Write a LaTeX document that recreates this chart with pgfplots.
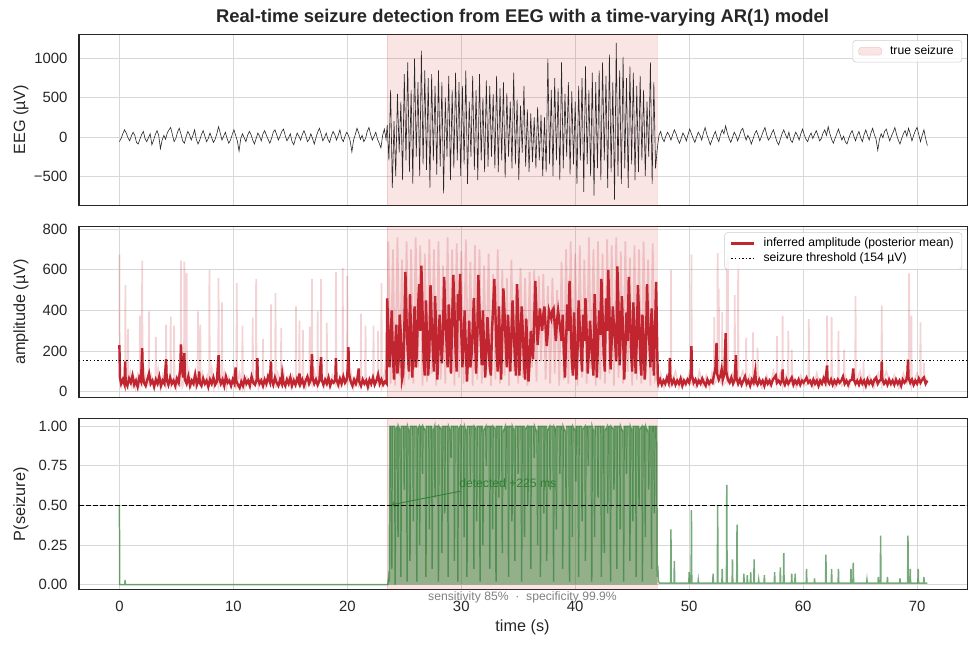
\documentclass[border=0pt]{standalone}
\usepackage{fontspec}
\setmainfont{Liberation Sans}
\usepackage{pgfplots}
\pgfplotsset{compat=1.18}
\definecolor{framec}{RGB}{38,38,38}
\definecolor{gridc}{RGB}{216,216,216}
\definecolor{szred}{RGB}{214,39,40}
\definecolor{ampred}{RGB}{193,37,47}
\definecolor{pgreen}{RGB}{46,125,50}
\definecolor{eegc}{RGB}{40,40,40}
\definecolor{legc}{RGB}{204,204,204}
\pgfplotsset{
  panel/.style={
    scale only axis, width=657.4pt, height=126.5pt,
    xmin=-3.545, xmax=74.445,
    axis line style={framec, line width=0.9pt},
    grid=major, major grid style={gridc, line width=0.6pt},
    tick style={draw=none},
    xtick={0,10,...,70},
    ticklabel style={font=\fontsize{11}{13}\selectfont, text=framec},
    yticklabel style={xshift=-5pt},
    xticklabel style={yshift=-5pt},
    /pgf/number format/assume math mode=true,
    legend style={font=\fontsize{9}{11}\selectfont, draw=legc, rounded corners=2pt,
      fill=white, fill opacity=0.8, text opacity=1, draw opacity=1,
      at={(1,1)}, anchor=north east, xshift=-4.2pt, yshift=-4.4pt,
      inner xsep=4pt, inner ysep=2pt, row sep=-1pt,
      /tikz/every odd column/.append style={column sep=4pt}},
    legend cell align=left,
  }
}
\begin{document}
\begin{tikzpicture}
\useasboundingbox (0,0) rectangle (722.7pt,-478.6pt);
% ---------------- Panel 1: EEG
\begin{axis}[panel, at={(58.44pt,-25.30pt)}, anchor=north west,
  ymin=-871, ymax=1310, ytick={-500,0,500,1000}, yticklabels={−500,0,500,1000},
  xticklabels={}]
\addplot[fill=szred, fill opacity=0.12, draw=szred, draw opacity=0.15, forget plot]
  coordinates {(23.5,-2000)(23.5,3000)(47.2,3000)(47.2,-2000)} -- cycle;
\addlegendimage{area legend, fill=szred, fill opacity=0.12, draw=szred, draw opacity=0.2}
\addlegendentry{true seizure}
\addplot[eegc, line width=0.45pt, forget plot] coordinates {
(0,-60)(0.15,-20)(0.3,40)(0.45,90)(0.6,50)(0.75,-10)(0.9,-50)(1.05,10)(1.2,60)(1.35,20)(1.5,-70)(1.65,-90)(1.8,-30)(1.95,30)(2.1,70)(2.25,-20)(2.4,-60)(2.55,-10)(2.7,40)(2.85,-100)(3.0,-40)(3.15,30)(3.3,80)(3.45,20)(3.6,-150)(3.75,-40)(3.9,20)(4.05,-30)(4.2,50)(4.35,90)(4.5,120)(4.65,30)(4.8,-60)(4.95,-20)(5.1,60)(5.25,110)(5.4,40)(5.55,-50)(5.7,-80)(5.85,0)(6.0,70)(6.15,30)(6.3,-40)(6.45,20)(6.6,90)(6.75,-30)(6.9,-90)(7.05,-40)(7.2,30)(7.35,80)(7.5,10)(7.65,-60)(7.8,-20)(7.95,50)(8.1,-10)(8.25,-70)(8.4,-30)(8.55,40)(8.7,130)(8.85,50)(9.0,-40)(9.15,10)(9.3,60)(9.45,-20)(9.6,-80)(9.75,-40)(9.9,30)(10.05,90)(10.2,20)(10.35,-50)(10.5,-180)(10.65,-20)(10.8,40)(10.95,-10)(11.1,-60)(11.25,20)(11.4,70)(11.55,30)(11.7,-40)(11.85,-90)(12.0,-20)(12.15,50)(12.3,10)(12.45,-50)(12.6,40)(12.75,80)(12.9,20)(13.05,-30)(13.2,-80)(13.35,-20)(13.5,60)(13.65,90)(13.8,30)(13.95,-40)(14.1,10)(14.25,70)(14.4,100)(14.55,20)(14.7,-50)(14.85,-10)(15.0,40)(15.15,-60)(15.3,-100)(15.45,-20)(15.6,50)(15.75,10)(15.9,-40)(16.05,30)(16.2,80)(16.35,20)(16.5,-60)(16.65,-30)(16.8,40)(16.95,-20)(17.1,-90)(17.25,-10)(17.4,60)(17.55,110)(17.7,40)(17.85,-50)(18.0,-10)(18.15,50)(18.3,-30)(18.45,-70)(18.6,10)(18.75,70)(18.9,30)(19.05,-40)(19.2,20)(19.35,90)(19.5,-20)(19.65,-60)(19.8,10)(19.95,60)(20.1,20)(20.25,-50)(20.4,-190)(20.55,-40)(20.7,30)(20.85,110)(21.0,50)(21.15,-30)(21.3,20)(21.45,-60)(21.6,-20)(21.75,70)(21.9,120)(22.05,30)(22.2,-40)(22.35,10)(22.5,60)(22.65,-30)(22.8,-80)(22.95,-140)(23.1,20)(23.25,100)(23.4,-30)
(23.5,150)(23.65,-300)(23.8,600)(23.95,-650)(24.1,200)(24.25,-500)(24.4,550)(24.55,-200)(24.7,450)(24.85,-550)(25.0,800)(25.15,-300)(25.3,950)(25.45,-450)(25.6,600)(25.75,-600)(25.9,1000)(26.05,-250)(26.2,700)(26.35,-500)(26.5,1100)(26.65,-350)(26.8,850)(26.95,-420)(27.1,750)(27.25,-650)(27.4,800)(27.55,-300)(27.7,650)(27.85,-480)(28.0,850)(28.15,-380)(28.3,700)(28.45,-720)(28.6,500)(28.75,-250)(28.9,780)(29.05,-550)(29.2,600)(29.35,-400)(29.5,820)(29.65,-300)(29.8,700)(29.95,-500)(30.1,650)(30.25,-350)(30.4,850)(30.55,-600)(30.7,450)(30.85,-250)(31.0,780)(31.15,-420)(31.3,600)(31.45,-550)(31.6,800)(31.75,-300)(31.9,500)(32.05,-450)(32.2,720)(32.35,-380)(32.5,650)(32.65,-250)(32.8,550)(32.95,-400)(33.1,780)(33.25,-450)(33.4,620)(33.55,-300)(33.7,700)(33.85,-520)(34.0,560)(34.15,-250)(34.3,450)(34.45,-400)(34.6,820)(34.75,-350)(34.9,480)(35.05,-550)(35.2,400)(35.35,-200)(35.5,650)(35.65,-380)(35.8,350)(35.95,-450)(36.1,300)(36.25,-320)(36.4,250)(36.55,-400)(36.7,380)(36.85,-300)(37.0,280)(37.15,-500)(37.3,250)(37.45,-450)(37.6,1000)(37.75,-350)(37.9,600)(38.05,-500)(38.2,750)(38.35,-300)(38.5,620)(38.65,-550)(38.8,950)(38.95,-400)(39.1,550)(39.25,-250)(39.4,700)(39.55,-480)(39.7,580)(39.85,-350)(40.0,450)(40.15,-600)(40.3,650)(40.45,-300)(40.6,750)(40.75,-700)(40.9,900)(41.05,-350)(41.2,600)(41.35,-500)(41.5,820)(41.65,-750)(41.8,700)(41.95,-400)(42.1,850)(42.25,-550)(42.4,950)(42.55,-300)(42.7,780)(42.85,-650)(43.0,1050)(43.15,-450)(43.3,700)(43.45,-800)(43.6,1200)(43.75,-500)(43.9,850)(44.05,-600)(44.2,1020)(44.35,-400)(44.5,750)(44.65,-650)(44.8,900)(44.95,-350)(45.1,820)(45.25,-550)(45.4,650)(45.55,-450)(45.7,780)(45.85,-300)(46.0,600)(46.15,-500)(46.3,450)(46.45,-250)(46.6,950)(46.75,-600)(46.9,700)(47.05,-400)(47.2,-150)
(47.35,20)(47.5,70)(47.65,-20)(47.8,-60)(47.95,10)(48.1,60)(48.25,20)(48.4,-40)(48.55,30)(48.7,90)(48.85,40)(49.0,-30)(49.15,-80)(49.3,-20)(49.45,50)(49.6,10)(49.75,-50)(49.9,30)(50.05,100)(50.2,40)(50.35,-20)(50.5,-70)(50.65,0)(50.8,60)(50.95,20)(51.1,-40)(51.25,50)(51.4,120)(51.55,30)(51.7,-30)(51.85,-100)(52.0,-40)(52.15,20)(52.3,70)(52.45,-10)(52.6,-60)(52.75,30)(52.9,90)(53.05,40)(53.2,140)(53.35,50)(53.5,-20)(53.65,-70)(53.8,-10)(53.95,60)(54.1,20)(54.25,-50)(54.4,10)(54.55,80)(54.7,110)(54.85,30)(55.0,-40)(55.15,20)(55.3,-20)(55.45,-90)(55.6,-30)(55.75,40)(55.9,80)(56.05,20)(56.2,-50)(56.35,10)(56.5,70)(56.65,120)(56.8,30)(56.95,-40)(57.1,-10)(57.25,50)(57.4,90)(57.55,10)(57.7,-60)(57.85,-100)(58.0,-30)(58.15,40)(58.3,90)(58.45,30)(58.6,-20)(58.75,60)(58.9,-40)(59.05,-70)(59.2,0)(59.35,60)(59.5,20)(59.65,-40)(59.8,40)(59.95,100)(60.1,30)(60.25,-30)(60.4,-60)(60.55,10)(60.7,50)(60.85,-20)(61.0,30)(61.15,80)(61.3,20)(61.45,-50)(61.6,-20)(61.75,50)(61.9,90)(62.05,20)(62.2,130)(62.35,40)(62.5,-30)(62.65,-80)(62.8,-20)(62.95,40)(63.1,100)(63.25,30)(63.4,-40)(63.55,10)(63.7,-60)(63.85,-90)(64.0,-20)(64.15,40)(64.3,80)(64.45,10)(64.6,-50)(64.75,20)(64.9,70)(65.05,-10)(65.2,-60)(65.35,30)(65.5,90)(65.65,20)(65.8,-40)(65.95,50)(66.1,110)(66.25,30)(66.4,-30)(66.55,-170)(66.7,-30)(66.85,40)(67.0,-10)(67.15,70)(67.3,100)(67.45,20)(67.6,-50)(67.75,10)(67.9,60)(68.05,120)(68.2,30)(68.35,-40)(68.5,-90)(68.65,-20)(68.8,40)(68.95,80)(69.1,10)(69.25,110)(69.4,40)(69.55,-50)(69.7,20)(69.85,80)(70.0,120)(70.15,30)(70.3,-60)(70.45,20)(70.6,90)(70.75,-20)(70.9,-110)
};
\end{axis}
% ---------------- Panel 2: amplitude
\begin{axis}[panel, at={(58.44pt,-167.55pt)}, anchor=north west,
  ymin=-28, ymax=813, ytick={0,200,...,800}, xticklabels={}]
\addplot[fill=szred, fill opacity=0.12, draw=szred, draw opacity=0.15, forget plot]
  coordinates {(23.5,-2000)(23.5,3000)(47.2,3000)(47.2,-2000)} -- cycle;
\addplot[ampred, opacity=0.2, line width=1.3pt, forget plot] coordinates {
(0,675)(0.03,80)(0.2,30)(0.35,70)(0.5,40)(0.53,525)(0.56,60)(0.73,30)(0.76,310)(0.79,40)(0.95,90)(1.1,30)(1.25,70)(1.4,20)(1.6,80)(1.77,40)(1.8,375)(1.83,60)(1.97,40)(2.0,645)(2.03,50)(2.2,100)(2.4,30)(2.57,60)(2.6,395)(2.63,30)(2.8,80)(3.0,40)(3.17,60)(3.2,270)(3.23,40)(3.4,110)(3.6,20)(3.8,80)(4.07,30)(4.1,330)(4.13,70)(4.3,30)(4.47,60)(4.5,370)(4.53,30)(4.77,70)(4.8,325)(4.83,90)(5.0,20)(5.2,80)(5.37,40)(5.4,645)(5.43,60)(5.55,30)(5.67,60)(5.7,640)(5.73,80)(5.87,40)(5.9,585)(5.93,40)(6.1,100)(6.3,30)(6.5,70)(6.7,20)(6.87,60)(6.9,395)(6.93,70)(7.07,30)(7.1,330)(7.13,30)(7.3,90)(7.5,40)(7.7,80)(7.87,30)(7.9,600)(7.93,40)(8.1,110)(8.3,20)(8.5,60)(8.67,30)(8.7,560)(8.73,80)(8.97,40)(9.0,440)(9.03,30)(9.2,90)(9.4,20)(9.6,70)(9.8,30)(10.0,80)(10.27,40)(10.3,535)(10.33,40)(10.55,90)(10.77,30)(10.8,325)(10.83,100)(11.0,20)(11.2,70)(11.4,30)(11.67,60)(11.7,365)(11.73,40)(11.97,70)(12.0,555)(12.03,80)(12.2,20)(12.4,60)(12.57,30)(12.6,260)(12.63,90)(12.8,30)(13.0,80)(13.27,40)(13.3,430)(13.33,60)(13.5,30)(13.67,70)(13.7,485)(13.73,20)(13.9,90)(14.17,40)(14.2,315)(14.23,40)(14.4,100)(14.6,20)(14.8,70)(15.0,30)(15.2,80)(15.47,40)(15.5,420)(15.53,50)(15.77,30)(15.8,350)(15.83,30)(16.07,60)(16.1,305)(16.13,90)(16.35,20)(16.67,70)(16.7,320)(16.73,60)(16.87,40)(16.9,555)(16.93,40)(17.1,100)(17.37,30)(17.4,395)(17.43,30)(17.67,60)(17.7,555)(17.73,80)(17.95,20)(18.17,60)(18.2,340)(18.23,90)(18.45,30)(18.7,80)(18.97,40)(19.0,590)(19.03,60)(19.3,20)(19.57,70)(19.6,610)(19.63,80)(19.97,40)(20.0,570)(20.03,40)(20.3,100)(20.55,20)(20.8,70)(21.0,30)(21.17,60)(21.2,385)(21.23,30)(21.57,80)(21.6,325)(21.63,80)(21.9,20)(22.27,60)(22.3,325)(22.33,60)(22.67,40)(22.7,300)(22.73,90)(22.97,50)(23.0,535)(23.03,30)(23.3,100)(23.5,250)
(23.6,740)(23.8,40)(24.0,700)(24.2,30)(24.4,760)(24.6,80)(24.8,650)(25.0,30)(25.2,740)(25.4,60)(25.6,700)(25.8,40)(26.0,760)(26.2,120)(26.4,720)(26.6,30)(26.8,680)(27.0,50)(27.2,750)(27.4,90)(27.6,700)(27.8,30)(28.0,740)(28.2,60)(28.4,620)(28.6,40)(28.8,760)(29.0,100)(29.2,700)(29.4,30)(29.6,730)(29.8,70)(30.0,690)(30.2,40)(30.4,750)(30.6,110)(30.8,640)(31.0,30)(31.2,720)(31.4,60)(31.6,700)(31.8,40)(32.0,620)(32.2,90)(32.4,680)(32.6,30)(32.8,580)(33.0,60)(33.2,700)(33.4,40)(33.6,600)(33.8,80)(34.0,560)(34.2,30)(34.4,650)(34.6,100)(34.8,530)(35.0,40)(35.2,610)(35.4,70)(35.6,560)(35.8,30)(36.0,590)(36.2,120)(36.4,600)(36.6,50)(36.8,570)(37.0,150)(37.2,580)(37.4,60)(37.6,520)(37.8,40)(38.0,560)(38.2,90)(38.4,500)(38.6,30)(38.8,640)(39.0,60)(39.2,700)(39.4,40)(39.6,740)(39.8,90)(40.0,680)(40.2,30)(40.4,720)(40.6,70)(40.8,650)(41.0,40)(41.2,760)(41.4,110)(41.6,700)(41.8,30)(42.0,740)(42.2,60)(42.4,680)(42.6,40)(42.8,750)(43.0,90)(43.2,720)(43.4,30)(43.6,760)(43.8,70)(44.0,690)(44.2,40)(44.4,740)(44.6,100)(44.8,660)(45.0,30)(45.2,720)(45.4,60)(45.6,700)(45.8,40)(46.0,740)(46.2,80)(46.4,650)(46.6,30)(46.8,730)(47.0,60)(47.2,90)
(47.3,30)(47.5,90)(47.8,20)(48.1,80)(48.37,40)(48.4,600)(48.43,40)(48.8,100)(49.1,20)(49.4,70)(49.7,30)(50.0,90)(50.17,40)(50.2,675)(50.23,40)(50.6,20)(50.9,100)(51.2,30)(51.5,80)(51.8,20)(52.0,90)(52.17,40)(52.2,367)(52.23,40)(52.47,60)(52.5,683)(52.53,60)(52.57,60)(52.6,508)(52.63,60)(52.87,40)(52.9,392)(52.93,30)(53.27,50)(53.3,650)(53.33,50)(53.37,50)(53.4,675)(53.43,50)(53.8,90)(53.97,40)(54.0,475)(54.03,60)(54.27,40)(54.3,633)(54.33,40)(54.7,100)(54.97,40)(55.0,267)(55.03,30)(55.3,80)(55.57,40)(55.6,292)(55.63,40)(55.97,40)(56.0,217)(56.03,90)(56.4,20)(56.8,80)(57.1,30)(57.4,100)(57.67,40)(57.7,275)(57.73,40)(58.0,90)(58.17,30)(58.2,375)(58.23,30)(58.5,80)(58.67,40)(58.7,300)(58.73,40)(58.97,40)(59.0,208)(59.03,90)(59.4,20)(59.8,80)(60.1,30)(60.47,40)(60.5,358)(60.53,60)(60.9,20)(61.2,90)(61.5,30)(61.8,80)(62.07,40)(62.1,375)(62.13,40)(62.47,40)(62.5,367)(62.53,90)(62.8,20)(63.07,40)(63.1,300)(63.13,60)(63.4,30)(63.57,40)(63.6,208)(63.63,90)(64.0,20)(64.3,80)(64.57,40)(64.6,470)(64.63,40)(65.0,100)(65.27,30)(65.3,150)(65.33,30)(65.8,80)(66.2,20)(66.6,90)(66.87,40)(66.9,425)(66.93,40)(67.3,100)(67.7,30)(68.0,80)(68.4,20)(68.8,90)(69.1,40)(69.27,60)(69.3,583)(69.33,60)(69.47,30)(69.5,375)(69.53,30)(70.0,90)(70.27,40)(70.3,342)(70.33,40)(70.57,80)(70.6,142)(70.63,80)(70.9,50)
};
\addplot[ampred, line width=1.8pt] coordinates {
(0,230)(0.05,70)(0.15,40)(0.3,60)(0.45,35)(0.5,150)(0.55,50)(0.7,30)(0.85,65)(1.0,45)(1.15,80)(1.3,35)(1.45,55)(1.6,25)(1.75,70)(1.9,50)(2.0,215)(2.05,90)(2.15,45)(2.3,30)(2.45,60)(2.6,90)(2.75,40)(2.9,55)(3.05,25)(3.2,60)(3.35,40)(3.5,75)(3.65,30)(3.8,55)(3.95,40)(4.1,160)(4.15,60)(4.3,35)(4.45,70)(4.6,40)(4.75,55)(4.9,30)(5.05,65)(5.2,45)(5.35,120)(5.4,233)(5.5,110)(5.6,70)(5.7,190)(5.75,60)(5.9,40)(6.05,75)(6.2,30)(6.35,55)(6.5,40)(6.65,85)(6.8,35)(6.95,60)(7.0,100)(7.05,45)(7.2,30)(7.35,65)(7.5,40)(7.65,55)(7.8,25)(7.95,60)(8.1,40)(8.25,70)(8.4,35)(8.55,50)(8.7,180)(8.75,70)(8.9,40)(9.05,60)(9.2,30)(9.35,75)(9.5,45)(9.65,55)(9.8,30)(9.95,60)(10.1,40)(10.2,120)(10.25,55)(10.4,35)(10.55,20)(10.7,50)(10.85,30)(11.0,65)(11.15,40)(11.3,55)(11.45,30)(11.6,75)(11.75,45)(11.9,35)(12.05,60)(12.1,165)(12.15,70)(12.3,40)(12.45,55)(12.6,30)(12.75,60)(12.9,40)(13.05,75)(13.2,50)(13.3,150)(13.35,60)(13.5,35)(13.65,70)(13.8,45)(13.95,30)(14.1,60)(14.25,40)(14.3,85)(14.4,45)(14.55,30)(14.7,60)(14.85,40)(15.0,70)(15.15,30)(15.3,55)(15.45,35)(15.6,65)(15.75,45)(15.8,90)(15.9,40)(16.05,60)(16.2,30)(16.35,55)(16.5,75)(16.65,40)(16.8,60)(16.9,185)(16.95,70)(17.1,40)(17.25,60)(17.4,35)(17.55,55)(17.7,170)(17.75,60)(17.9,35)(18.05,60)(18.2,40)(18.35,70)(18.5,30)(18.65,55)(18.8,45)(18.95,60)(19.0,165)(19.05,60)(19.2,35)(19.35,65)(19.5,40)(19.65,75)(19.8,45)(19.95,60)(20.05,120)(20.1,220)(20.15,90)(20.3,50)(20.45,30)(20.6,60)(20.75,40)(20.9,70)(21.0,115)(21.05,50)(21.2,30)(21.35,60)(21.5,40)(21.65,55)(21.8,25)(21.95,60)(22.1,40)(22.25,70)(22.4,35)(22.55,55)(22.7,85)(22.85,40)(23.0,60)(23.15,35)(23.3,50)(23.45,40)
(23.5,460)(23.6,300)(23.7,120)(23.8,250)(23.9,400)(24.0,180)(24.1,60)(24.2,220)(24.3,330)(24.4,90)(24.5,150)(24.6,380)(24.7,280)(24.8,60)(24.9,90)(25.0,300)(25.1,590)(25.2,350)(25.3,200)(25.4,100)(25.5,480)(25.6,280)(25.7,70)(25.8,240)(25.9,420)(26.0,120)(26.1,180)(26.2,400)(26.3,530)(26.4,300)(26.5,620)(26.6,400)(26.7,150)(26.8,80)(26.9,450)(27.0,250)(27.1,80)(27.2,200)(27.3,525)(27.4,350)(27.5,220)(27.6,100)(27.7,470)(27.8,300)(27.9,60)(28.0,200)(28.1,380)(28.2,250)(28.3,140)(28.4,300)(28.5,565)(28.6,380)(28.7,250)(28.8,120)(28.9,430)(29.0,280)(29.1,90)(29.2,350)(29.3,575)(29.4,420)(29.5,200)(29.6,100)(29.7,480)(29.8,350)(29.9,580)(30.0,300)(30.1,120)(30.2,250)(30.3,400)(30.4,220)(30.5,50)(30.6,180)(30.7,350)(30.8,120)(30.9,180)(31.0,300)(31.1,460)(31.2,280)(31.3,90)(31.4,250)(31.5,575)(31.6,400)(31.7,260)(31.8,130)(31.9,400)(32.0,220)(32.1,70)(32.2,200)(32.3,367)(32.4,250)(32.5,120)(32.6,80)(32.7,300)(32.8,420)(32.9,555)(33.0,380)(33.1,200)(33.2,100)(33.3,420)(33.4,250)(33.5,60)(33.6,300)(33.7,508)(33.8,380)(33.9,240)(34.0,120)(34.1,380)(34.2,250)(34.3,100)(34.4,280)(34.5,450)(34.6,300)(34.7,180)(34.8,80)(34.9,530)(35.0,350)(35.1,80)(35.2,250)(35.3,420)(35.4,300)(35.5,150)(35.6,60)(35.7,360)(35.8,220)(35.9,50)(36.0,150)(36.1,300)(36.2,220)(36.3,160)(36.4,350)(36.5,545)(36.6,380)(36.7,230)(36.8,320)(36.9,410)(37.0,350)(37.1,300)(37.2,380)(37.3,420)(37.4,320)(37.5,225)(37.6,300)(37.7,400)(37.8,380)(37.9,360)(38.0,400)(38.1,410)(38.2,330)(38.3,250)(38.4,350)(38.5,400)(38.6,350)(38.7,300)(38.8,250)(38.9,380)(39.0,200)(39.1,70)(39.2,250)(39.3,430)(39.4,300)(39.5,545)(39.6,350)(39.7,150)(39.8,80)(39.9,390)(40.0,220)(40.1,60)(40.2,200)(40.3,450)(40.4,320)(40.5,200)(40.6,100)(40.7,380)(40.8,250)(40.9,460)(41.0,300)(41.1,90)(41.2,200)(41.3,350)(41.4,250)(41.5,160)(41.6,80)(41.7,480)(41.8,300)(41.9,70)(42.0,250)(42.1,400)(42.2,280)(42.3,555)(42.4,380)(42.5,180)(42.6,100)(42.7,460)(42.8,300)(42.9,600)(43.0,400)(43.1,110)(43.2,250)(43.3,420)(43.4,320)(43.5,250)(43.6,150)(43.7,617)(43.8,400)(43.9,130)(44.0,300)(44.1,470)(44.2,280)(44.3,60)(44.4,200)(44.5,390)(44.6,250)(44.7,565)(44.8,380)(44.9,200)(45.0,100)(45.1,440)(45.2,300)(45.3,90)(45.4,250)(45.5,525)(45.6,380)(45.7,170)(45.8,80)(45.9,380)(46.0,250)(46.1,60)(46.2,200)(46.3,530)(46.4,350)(46.5,250)(46.6,120)(46.7,410)(46.8,280)(46.9,80)(47.0,300)(47.1,540)(47.2,200)
(47.25,60)(47.3,40)(47.45,60)(47.6,35)(47.75,55)(47.9,40)(48.05,70)(48.2,45)(48.27,90)(48.3,167)(48.35,70)(48.5,40)(48.65,60)(48.8,35)(48.95,55)(49.1,40)(49.25,65)(49.4,30)(49.55,55)(49.7,40)(49.85,60)(50.0,45)(50.15,90)(50.2,225)(50.25,80)(50.4,45)(50.55,60)(50.7,35)(50.85,55)(51.0,40)(51.15,65)(51.3,45)(51.45,30)(51.6,60)(51.75,40)(51.9,55)(52.05,45)(52.2,90)(52.3,110)(52.4,240)(52.45,90)(52.6,60)(52.75,80)(52.85,110)(52.95,60)(53.1,90)(53.2,288)(53.25,100)(53.4,60)(53.55,45)(53.7,70)(53.85,40)(54.0,60)(54.1,180)(54.15,70)(54.3,40)(54.45,60)(54.6,35)(54.75,55)(54.9,75)(55.05,40)(55.2,55)(55.35,30)(55.5,60)(55.65,45)(55.8,100)(55.85,50)(56.0,35)(56.15,60)(56.3,40)(56.45,55)(56.6,30)(56.75,60)(56.9,40)(57.05,55)(57.2,35)(57.35,60)(57.6,80)(57.7,45)(57.85,55)(58.0,40)(58.15,60)(58.2,110)(58.25,55)(58.4,35)(58.55,60)(58.7,40)(58.85,55)(59.0,70)(59.15,35)(59.3,55)(59.45,40)(59.6,60)(59.75,35)(59.9,55)(60.05,45)(60.3,70)(60.45,45)(60.6,55)(60.75,35)(60.9,60)(61.05,40)(61.2,55)(61.35,30)(61.5,55)(61.65,40)(61.8,65)(61.95,45)(62.1,130)(62.15,55)(62.3,40)(62.45,60)(62.6,35)(62.75,55)(62.9,40)(63.05,60)(63.2,45)(63.35,55)(63.5,75)(63.65,40)(63.8,55)(63.95,35)(64.1,55)(64.3,60)(64.4,115)(64.45,60)(64.6,40)(64.75,55)(64.9,35)(65.05,60)(65.2,40)(65.35,55)(65.5,30)(65.65,60)(65.8,40)(65.95,55)(66.1,35)(66.25,60)(66.4,70)(66.55,40)(66.7,55)(66.85,60)(66.9,150)(66.95,60)(67.1,40)(67.25,55)(67.4,35)(67.55,60)(67.7,40)(67.85,55)(68.0,35)(68.15,60)(68.3,40)(68.45,55)(68.6,30)(68.75,60)(68.9,45)(69.05,55)(69.15,90)(69.2,158)(69.25,70)(69.4,45)(69.55,60)(69.7,35)(69.85,55)(70.0,40)(70.15,65)(70.3,45)(70.45,60)(70.6,70)(70.75,40)(70.9,55)
};
\addlegendentry{inferred amplitude (posterior mean)}
\addplot[black, line width=1pt, dash pattern=on 1pt off 1.7pt] coordinates {(-3.545,154)(74.445,154)};
\addlegendentry{seizure threshold (154 µV)}
\end{axis}
% ---------------- Panel 3: P(seizure)
\begin{axis}[panel, at={(58.44pt,-309.79pt)}, anchor=north west,
  ymin=-0.032, ymax=1.047, ytick={0,0.25,0.5,0.75,1},
  yticklabels={0.00,0.25,0.50,0.75,1.00}]
\addplot[fill=szred, fill opacity=0.12, draw=szred, draw opacity=0.15, forget plot]
  coordinates {(23.5,-2)(23.5,3)(47.2,3)(47.2,-2)} -- cycle;
\addplot[draw=none, fill=pgreen, fill opacity=0.5, forget plot] coordinates {
(23.55,0)(23.62,0.05)(23.68,0.02)(23.74,1)(23.86,1)(23.9,0.1)(23.94,1)(24.16,1)(24.2,0)(24.24,0.98)(24.41,1)(24.45,0.3)(24.49,1)(24.66,0.97)(24.7,0.05)(24.74,1)(24.96,1)(25.0,0.6)(25.04,1)(25.21,1)(25.25,0.02)(25.29,1)(25.46,0.96)(25.5,0.15)(25.54,1)(25.76,1)(25.8,0.4)(25.84,1)(26.06,1)(26.1,0.02)(26.14,0.98)(26.31,1)(26.35,0.25)(26.39,1)(26.56,1)(26.6,0.7)(26.64,1)(26.86,0.97)(26.9,0.05)(26.94,1)(27.16,1)(27.2,0.35)(27.24,1)(27.41,1)(27.45,0.1)(27.49,0.96)(27.66,1)(27.7,0.55)(27.74,1)(27.96,1)(28.0,0.02)(28.04,1)(28.26,0.98)(28.3,0.2)(28.34,1)(28.51,1)(28.55,0.45)(28.59,1)(28.81,1)(28.85,0.05)(28.89,1)(29.06,0.97)(29.1,0.8)(29.14,1)(29.36,1)(29.4,0.15)(29.44,1)(29.66,1)(29.7,0.02)(29.74,0.98)(29.91,1)(29.95,0.5)(29.99,1)(30.21,1)(30.25,0.3)(30.29,1)(30.46,0.96)(30.5,0.05)(30.54,1)(30.76,1)(30.8,0.65)(30.84,1)(31.06,1)(31.1,0.1)(31.14,1)(31.31,0.98)(31.35,0.4)(31.39,1)(31.61,1)(31.65,0.02)(31.69,1)(31.86,1)(31.9,0.25)(31.94,0.97)(32.16,1)(32.2,0.75)(32.24,1)(32.46,1)(32.5,0.1)(32.54,1)(32.71,1)(32.75,0.35)(32.79,1)(33.01,0.98)(33.05,0.02)(33.09,1)(33.26,1)(33.3,0.55)(33.34,1)(33.56,1)(33.6,0.2)(33.64,0.96)(33.86,1)(33.9,0.6)(33.94,1)(34.11,1)(34.15,0.05)(34.19,1)(34.41,1)(34.45,0.4)(34.49,1)(34.66,0.97)(34.7,0.15)(34.74,1)(34.96,1)(35.0,0.7)(35.04,1)(35.26,1)(35.3,0.02)(35.34,1)(35.51,1)(35.55,0.3)(35.59,0.98)(35.81,1)(35.85,0.5)(35.89,1)(36.06,1)(36.1,0.1)(36.14,1)(36.36,1)(36.4,0.8)(36.44,1)(36.66,0.96)(36.7,0.25)(36.74,1)(36.91,1)(36.95,0.05)(36.99,1)(37.21,1)(37.25,0.45)(37.29,1)(37.46,1)(37.5,0.15)(37.54,0.97)(37.76,1)(37.8,0.6)(37.84,1)(38.06,1)(38.1,0.02)(38.14,1)(38.31,0.98)(38.35,0.35)(38.39,1)(38.61,1)(38.65,0.7)(38.69,1)(38.86,1)(38.9,0.1)(38.94,1)(39.16,0.96)(39.2,0.5)(39.24,1)(39.46,1)(39.5,0.02)(39.54,1)(39.71,1)(39.75,0.3)(39.79,1)(40.01,0.97)(40.05,0.65)(40.09,1)(40.26,1)(40.3,0.05)(40.34,1)(40.56,1)(40.6,0.4)(40.64,0.98)(40.86,1)(40.9,0.15)(40.94,1)(41.11,1)(41.15,0.75)(41.19,1)(41.41,1)(41.45,0.02)(41.49,1)(41.66,0.96)(41.7,0.3)(41.74,1)(41.96,1)(42.0,0.55)(42.04,1)(42.26,1)(42.3,0.05)(42.34,1)(42.51,1)(42.55,0.2)(42.59,0.97)(42.81,1)(42.85,0.45)(42.89,1)(43.06,1)(43.1,0.02)(43.14,1)(43.36,0.98)(43.4,0.6)(43.44,1)(43.61,1)(43.65,0.1)(43.69,1)(43.91,1)(43.95,0.35)(43.99,1)(44.21,0.96)(44.25,0.02)(44.29,1)(44.46,1)(44.5,0.7)(44.54,1)(44.76,1)(44.8,0.15)(44.84,1)(45.01,0.97)(45.05,0.4)(45.09,1)(45.31,1)(45.35,0.05)(45.39,1)(45.56,1)(45.6,0.5)(45.64,0.98)(45.86,1)(45.9,0.02)(45.94,1)(46.11,1)(46.15,0.3)(46.19,1)(46.41,0.96)(46.45,0.6)(46.49,1)(46.66,1)(46.7,0.1)(46.74,1)(46.91,1)(46.95,0.45)(46.99,1)(47.15,1)(47.2,0.05)(47.2,0)
} -- cycle;
\addplot[pgreen, opacity=0.65, line width=1.1pt, forget plot] coordinates {
(0,0.5)(0.03,0)(0.47,0)(0.5,0.03)(0.53,0)(23.5,0)
(23.55,0)(23.62,0.05)(23.68,0.02)(23.74,1)(23.86,1)(23.9,0.1)(23.94,1)(24.16,1)(24.2,0)(24.24,0.98)(24.41,1)(24.45,0.3)(24.49,1)(24.66,0.97)(24.7,0.05)(24.74,1)(24.96,1)(25.0,0.6)(25.04,1)(25.21,1)(25.25,0.02)(25.29,1)(25.46,0.96)(25.5,0.15)(25.54,1)(25.76,1)(25.8,0.4)(25.84,1)(26.06,1)(26.1,0.02)(26.14,0.98)(26.31,1)(26.35,0.25)(26.39,1)(26.56,1)(26.6,0.7)(26.64,1)(26.86,0.97)(26.9,0.05)(26.94,1)(27.16,1)(27.2,0.35)(27.24,1)(27.41,1)(27.45,0.1)(27.49,0.96)(27.66,1)(27.7,0.55)(27.74,1)(27.96,1)(28.0,0.02)(28.04,1)(28.26,0.98)(28.3,0.2)(28.34,1)(28.51,1)(28.55,0.45)(28.59,1)(28.81,1)(28.85,0.05)(28.89,1)(29.06,0.97)(29.1,0.8)(29.14,1)(29.36,1)(29.4,0.15)(29.44,1)(29.66,1)(29.7,0.02)(29.74,0.98)(29.91,1)(29.95,0.5)(29.99,1)(30.21,1)(30.25,0.3)(30.29,1)(30.46,0.96)(30.5,0.05)(30.54,1)(30.76,1)(30.8,0.65)(30.84,1)(31.06,1)(31.1,0.1)(31.14,1)(31.31,0.98)(31.35,0.4)(31.39,1)(31.61,1)(31.65,0.02)(31.69,1)(31.86,1)(31.9,0.25)(31.94,0.97)(32.16,1)(32.2,0.75)(32.24,1)(32.46,1)(32.5,0.1)(32.54,1)(32.71,1)(32.75,0.35)(32.79,1)(33.01,0.98)(33.05,0.02)(33.09,1)(33.26,1)(33.3,0.55)(33.34,1)(33.56,1)(33.6,0.2)(33.64,0.96)(33.86,1)(33.9,0.6)(33.94,1)(34.11,1)(34.15,0.05)(34.19,1)(34.41,1)(34.45,0.4)(34.49,1)(34.66,0.97)(34.7,0.15)(34.74,1)(34.96,1)(35.0,0.7)(35.04,1)(35.26,1)(35.3,0.02)(35.34,1)(35.51,1)(35.55,0.3)(35.59,0.98)(35.81,1)(35.85,0.5)(35.89,1)(36.06,1)(36.1,0.1)(36.14,1)(36.36,1)(36.4,0.8)(36.44,1)(36.66,0.96)(36.7,0.25)(36.74,1)(36.91,1)(36.95,0.05)(36.99,1)(37.21,1)(37.25,0.45)(37.29,1)(37.46,1)(37.5,0.15)(37.54,0.97)(37.76,1)(37.8,0.6)(37.84,1)(38.06,1)(38.1,0.02)(38.14,1)(38.31,0.98)(38.35,0.35)(38.39,1)(38.61,1)(38.65,0.7)(38.69,1)(38.86,1)(38.9,0.1)(38.94,1)(39.16,0.96)(39.2,0.5)(39.24,1)(39.46,1)(39.5,0.02)(39.54,1)(39.71,1)(39.75,0.3)(39.79,1)(40.01,0.97)(40.05,0.65)(40.09,1)(40.26,1)(40.3,0.05)(40.34,1)(40.56,1)(40.6,0.4)(40.64,0.98)(40.86,1)(40.9,0.15)(40.94,1)(41.11,1)(41.15,0.75)(41.19,1)(41.41,1)(41.45,0.02)(41.49,1)(41.66,0.96)(41.7,0.3)(41.74,1)(41.96,1)(42.0,0.55)(42.04,1)(42.26,1)(42.3,0.05)(42.34,1)(42.51,1)(42.55,0.2)(42.59,0.97)(42.81,1)(42.85,0.45)(42.89,1)(43.06,1)(43.1,0.02)(43.14,1)(43.36,0.98)(43.4,0.6)(43.44,1)(43.61,1)(43.65,0.1)(43.69,1)(43.91,1)(43.95,0.35)(43.99,1)(44.21,0.96)(44.25,0.02)(44.29,1)(44.46,1)(44.5,0.7)(44.54,1)(44.76,1)(44.8,0.15)(44.84,1)(45.01,0.97)(45.05,0.4)(45.09,1)(45.31,1)(45.35,0.05)(45.39,1)(45.56,1)(45.6,0.5)(45.64,0.98)(45.86,1)(45.9,0.02)(45.94,1)(46.11,1)(46.15,0.3)(46.19,1)(46.41,0.96)(46.45,0.6)(46.49,1)(46.66,1)(46.7,0.1)(46.74,1)(46.91,1)(46.95,0.45)(46.99,1)(47.15,1)(47.2,0.05)
(47.25,0.12)(47.3,0.02)(47.4,0.01)(48.37,0.01)(48.4,0.35)(48.43,0.01)(48.67,0.01)(48.7,0.15)(48.73,0.01)(49.97,0.01)(50.0,0.08)(50.03,0.01)(50.17,0.01)(50.2,0.47)(50.23,0.01)(50.77,0.01)(50.8,0.03)(50.83,0.01)(52.07,0.01)(52.1,0.07)(52.13,0.01)(52.47,0.01)(52.5,0.5)(52.53,0.01)(52.87,0.01)(52.9,0.1)(52.93,0.01)(53.27,0.01)(53.3,0.63)(53.33,0.01)(53.77,0.01)(53.8,0.16)(53.83,0.01)(54.17,0.01)(54.2,0.38)(54.23,0.01)(54.77,0.01)(54.8,0.07)(54.83,0.01)(55.07,0.01)(55.1,0.06)(55.13,0.01)(55.37,0.01)(55.4,0.08)(55.43,0.01)(55.67,0.01)(55.7,0.16)(55.73,0.01)(56.07,0.01)(56.1,0.03)(56.13,0.01)(56.57,0.01)(56.6,0.06)(56.63,0.01)(57.47,0.01)(57.5,0.08)(57.53,0.01)(57.97,0.01)(58.0,0.11)(58.03,0.01)(58.27,0.01)(58.3,0.2)(58.33,0.01)(58.97,0.01)(59.0,0.07)(59.03,0.01)(59.27,0.01)(59.3,0.07)(59.33,0.01)(60.27,0.01)(60.3,0.1)(60.33,0.01)(60.97,0.01)(61.0,0.04)(61.03,0.01)(61.97,0.01)(62.0,0.19)(62.03,0.01)(62.47,0.01)(62.5,0.1)(62.53,0.01)(63.07,0.01)(63.1,0.1)(63.13,0.01)(64.17,0.01)(64.2,0.1)(64.23,0.01)(64.37,0.01)(64.4,0.14)(64.43,0.01)(65.57,0.01)(65.6,0.03)(65.63,0.01)(66.57,0.01)(66.6,0.05)(66.63,0.01)(66.77,0.01)(66.8,0.31)(66.83,0.01)(67.37,0.01)(67.4,0.05)(67.43,0.01)(68.47,0.01)(68.5,0.04)(68.53,0.01)(69.17,0.01)(69.2,0.31)(69.23,0.01)(69.37,0.01)(69.4,0.1)(69.43,0.01)(70.07,0.01)(70.1,0.1)(70.13,0.01)(70.57,0.01)(70.6,0.05)(70.63,0.01)(70.9,0.01)
};
\addplot[black, line width=0.9pt, dash pattern=on 3.7pt off 1.6pt, forget plot] coordinates {(-3.545,0.5)(74.445,0.5)};
\draw[->, pgreen, line width=0.6pt] (axis cs:29.9,0.59) -- (axis cs:23.9,0.505);
\node[anchor=base west, text=pgreen, font=\fontsize{9}{11}\selectfont, inner sep=0pt] at (axis cs:29.8,0.615) {detected +225 ms};
\end{axis}
% titles and labels
\node[anchor=north, text={rgb,255:red,128;green,128;blue,128}, font=\fontsize{9}{11}\selectfont, inner sep=0pt] at (386.5pt,-437.6pt) {sensitivity 85\%\ \ ·\ \ specificity 99.9\%};
\node[font=\bfseries\fontsize{13.6}{15}\selectfont, text=framec] at (386.5pt,-13.3pt) {Real-time seizure detection from EEG with a time-varying AR(1) model};
\node[font=\fontsize{12}{14}\selectfont, text=framec] at (386.5pt,-463.8pt) {time (s)};
\node[font=\fontsize{12}{14}\selectfont, text=framec, rotate=90] at (15.5pt,-88.55pt) {EEG (µV)};
\node[font=\fontsize{12}{14}\selectfont, text=framec, rotate=90] at (15.5pt,-230.8pt) {amplitude (µV)};
\node[font=\fontsize{12}{14}\selectfont, text=framec, rotate=90] at (15.5pt,-373.0pt) {P(seizure)};
\end{tikzpicture}
\end{document}
